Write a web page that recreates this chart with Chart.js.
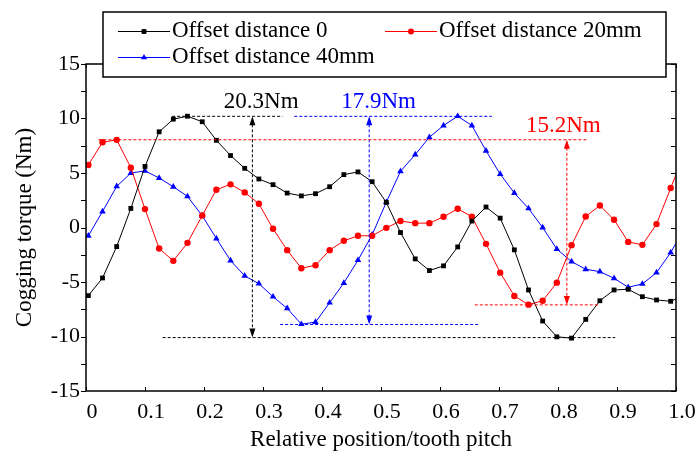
<!DOCTYPE html>
<html>
<head>
<meta charset="utf-8">
<script src="https://cdn.jsdelivr.net/npm/chart.js@4.4.1/dist/chart.umd.min.js"></script>
<style>
  html, body { margin: 0; padding: 0; background: #fff; }
</style>
</head>
<body>
<canvas id="torqueChart" width="700" height="458"></canvas>
<script>
// relative rotor position (tooth pitch) of each sample
var positions = [0.004, 0.028, 0.052, 0.076, 0.100, 0.124, 0.148, 0.172, 0.197, 0.221,
  0.245, 0.269, 0.293, 0.317, 0.341, 0.365, 0.389, 0.413, 0.437, 0.461,
  0.485, 0.509, 0.533, 0.558, 0.582, 0.606, 0.630, 0.654, 0.678, 0.702,
  0.726, 0.750, 0.774, 0.798, 0.823, 0.847, 0.871, 0.895, 0.919, 0.943,
  0.967, 0.991, 1.015];

// cogging torque (Nm)
var offset0 = [-6.25, -4.63, -1.75, 1.75, 5.6, 8.78, 9.94, 10.21, 9.7, 8.0,
  6.6, 5.43, 4.45, 3.93, 3.16, 2.9, 3.1, 3.74, 4.85, 5.1,
  4.2, 2.3, -0.46, -2.88, -3.95, -3.52, -1.78, 0.59, 1.88, 0.86,
  -2.05, -5.73, -8.58, -10.03, -10.15, -8.43, -6.72, -5.73, -5.67, -6.35,
  -6.65, -6.77, -6.2];
var offset20 = [5.74, 7.82, 8.04, 5.49, 1.69, -1.93, -3.06, -1.41, 1.1, 3.47,
  3.96, 3.22, 2.18, -0.12, -2.08, -3.74, -3.46, -2.08, -1.22, -0.76,
  -0.76, -0.03, 0.59, 0.4, 0.4, 0.98, 1.72, 0.98, -1.5, -4.14,
  -6.28, -7.08, -6.72, -5.06, -1.62, 1.01, 2.02, 0.71, -1.32, -1.59,
  0.31, 3.62, 6.9];
var offset40 = [-0.76, 1.47, 3.77, 5.0, 5.19, 4.54, 3.74, 2.85, 1.08, -1.01,
  -3.04, -4.44, -5.15, -6.35, -7.42, -8.87, -8.68, -6.9, -5.09, -3.0,
  -0.67, 2.32, 5.15, 6.69, 8.28, 9.36, 10.21, 9.36, 7.04, 4.9,
  3.16, 1.75, 0.0, -1.98, -3.13, -3.83, -4.05, -4.66, -5.48, -5.18,
  -4.14, -2.3, 0.0];

var seriesNames = ['Offset distance 0', 'Offset distance 20mm', 'Offset distance 40mm'];

// peak-to-peak markers
var rippleMax = [10.2, 10.2, 8.05];
var rippleMin = [-10.1, -8.9, -7.1];
var rippleLabels = ['20.3Nm', '17.9Nm', '15.2Nm'];

var serif = "'Liberation Serif', 'Times New Roman', serif";

function toPoints(ys) {
  return ys.map(function (y, i) { return { x: positions[i], y: y }; });
}

var guides = [
  { color: '#000000', at: 0.282, hi: rippleMax[0], lo: rippleMin[0], hiSpan: [0.146, 0.333], loSpan: [0.130, 0.897], text: rippleLabels[0], textAt: [0.297, 11.5] },
  { color: '#0000ff', at: 0.480, hi: rippleMax[1], lo: rippleMin[1], hiSpan: [0.353, 0.688], loSpan: [0.329, 0.667], text: rippleLabels[1], textAt: [0.496, 11.5] },
  { color: '#ff0000', at: 0.815, hi: rippleMax[2], lo: rippleMin[2], hiSpan: [0.021, 0.851], loSpan: [0.659, 0.870], text: rippleLabels[2], textAt: [0.809, 9.35] }
];

function marker(ctx, style, x, y, color) {
  ctx.fillStyle = color;
  ctx.beginPath();
  if (style === 'rect') {
    ctx.rect(x - 2.4, y - 2.4, 4.8, 4.8);
  } else if (style === 'circle') {
    ctx.arc(x, y, 3, 0, Math.PI * 2);
  } else {
    ctx.moveTo(x, y - 3.6);
    ctx.lineTo(x + 3.1, y + 1.8);
    ctx.lineTo(x - 3.1, y + 1.8);
    ctx.closePath();
  }
  ctx.fill();
}

var decor = {
  id: 'decor',
  afterDatasetsDraw: function (chart) {
    var ctx = chart.ctx, xs = chart.scales.x, ys = chart.scales.y, a = chart.chartArea;
    ctx.save();

    // peak-to-peak guide lines and arrows
    guides.forEach(function (g) {
      var px = xs.getPixelForValue(g.at);
      var pt = ys.getPixelForValue(g.hi);
      var pb = ys.getPixelForValue(g.lo);
      ctx.strokeStyle = g.color;
      ctx.fillStyle = g.color;
      ctx.lineWidth = 1;
      ctx.setLineDash([3, 2]);
      ctx.beginPath();
      ctx.moveTo(xs.getPixelForValue(g.hiSpan[0]), pt);
      ctx.lineTo(xs.getPixelForValue(g.hiSpan[1]), pt);
      ctx.moveTo(xs.getPixelForValue(g.loSpan[0]), pb);
      ctx.lineTo(xs.getPixelForValue(g.loSpan[1]), pb);
      ctx.moveTo(px, pt + 8);
      ctx.lineTo(px, pb - 8);
      ctx.stroke();
      ctx.setLineDash([]);
      ctx.beginPath();
      ctx.moveTo(px, pt);
      ctx.lineTo(px + 3, pt + 9);
      ctx.lineTo(px - 3, pt + 9);
      ctx.closePath();
      ctx.moveTo(px, pb);
      ctx.lineTo(px + 3, pb - 9);
      ctx.lineTo(px - 3, pb - 9);
      ctx.closePath();
      ctx.fill();
      ctx.font = '23px ' + serif;
      ctx.textAlign = 'center';
      ctx.textBaseline = 'middle';
      ctx.fillText(g.text, xs.getPixelForValue(g.textAt[0]), ys.getPixelForValue(g.textAt[1]));
    });

    // frame and ticks
    ctx.strokeStyle = '#000';
    ctx.lineWidth = 1.5;
    ctx.strokeRect(a.left, a.top, a.right - a.left, a.bottom - a.top);
    ctx.lineWidth = 1;
    ctx.beginPath();
    for (var v = -15; v <= 15; v += 2.5) {
      var py = Math.round(ys.getPixelForValue(v)) + 0.5;
      ctx.moveTo(a.left - 5, py); ctx.lineTo(a.left, py);
      ctx.moveTo(a.right - 5, py); ctx.lineTo(a.right, py);
    }
    for (var k = 0; k <= 10; k++) {
      var pxx = Math.round(xs.getPixelForValue(k / 10)) + 0.5;
      ctx.moveTo(pxx, a.bottom); ctx.lineTo(pxx, a.bottom - 4);
      ctx.moveTo(pxx, a.top); ctx.lineTo(pxx, a.top + 4);
    }
    ctx.stroke();

    // legend box
    ctx.fillStyle = '#fff';
    ctx.fillRect(103, 12, 563, 65);
    ctx.strokeStyle = '#000';
    ctx.lineWidth = 1.5;
    ctx.strokeRect(103, 12, 563, 65);
    var entries = [
      { x: 118, y: 31, color: '#000000', style: 'rect', name: seriesNames[0] },
      { x: 385, y: 31, color: '#ff0000', style: 'circle', name: seriesNames[1] },
      { x: 118, y: 57, color: '#0000ff', style: 'triangle', name: seriesNames[2] }
    ];
    ctx.font = '23px ' + serif;
    ctx.textAlign = 'left';
    ctx.textBaseline = 'middle';
    entries.forEach(function (e) {
      ctx.strokeStyle = e.color;
      ctx.lineWidth = 1;
      ctx.beginPath();
      ctx.moveTo(e.x, e.y + 0.5);
      ctx.lineTo(e.x + 52, e.y + 0.5);
      ctx.stroke();
      marker(ctx, e.style, e.x + 26, e.y + 0.5, e.color);
      ctx.fillStyle = '#000';
      ctx.fillText(e.name, e.x + 54, e.y);
    });
    ctx.restore();
  }
};

var ctx = document.getElementById('torqueChart').getContext('2d');
var torqueChart = new Chart(ctx, {
  type: 'line',
  data: {
    datasets: [{
      label: seriesNames[0],
      data: toPoints(offset0),
      borderColor: '#000000',
      backgroundColor: '#000000',
      borderWidth: 1,
      pointStyle: 'rect',
      pointRadius: 3.4,
      pointBorderWidth: 0
    }, {
      label: seriesNames[1],
      data: toPoints(offset20),
      borderColor: '#ff0000',
      backgroundColor: '#ff0000',
      borderWidth: 1,
      pointStyle: 'circle',
      pointRadius: 3.2,
      pointBorderWidth: 0
    }, {
      label: seriesNames[2],
      data: toPoints(offset40),
      borderColor: '#0000ff',
      backgroundColor: '#0000ff',
      borderWidth: 1,
      pointStyle: 'triangle',
      pointRadius: 3.8,
      pointBorderWidth: 0
    }]
  },
  options: {
    responsive: false,
    animation: false,
    layout: { padding: { left: 0, right: 24, top: 64, bottom: 0 } },
    plugins: {
      legend: { display: false },
      tooltip: { enabled: false }
    },
    scales: {
      x: {
        type: 'linear',
        min: 0,
        max: 1,
        grid: { display: false, drawTicks: false },
        border: { display: false },
        ticks: {
          stepSize: 0.1,
          autoSkip: false,
          maxRotation: 0,
          padding: 8,
          labelOffset: 6,
          color: '#000',
          font: { family: serif, size: 22 },
          callback: function (v) { return v === 0 ? '0' : Number(v).toFixed(1); }
        },
        title: {
          display: true,
          text: 'Relative position/tooth pitch',
          color: '#000',
          font: { family: serif, size: 23 },
          padding: { top: 0, bottom: 4 }
        },
        afterFit: function (s) { s.height = 67; s.paddingLeft = 0; s.paddingRight = 0; }
      },
      y: {
        min: -15,
        max: 15,
        grid: { display: false, drawTicks: false },
        border: { display: false },
        ticks: {
          stepSize: 2.5,
          padding: 6,
          color: '#000',
          font: { family: serif, size: 22 },
          callback: function (v) { return v % 5 === 0 ? String(v) : ''; }
        },
        title: {
          display: true,
          text: 'Cogging torque (Nm)',
          color: '#000',
          font: { family: serif, size: 23 },
          padding: { top: 11, bottom: 0 }
        },
        afterFit: function (s) { s.width = 86; s.paddingTop = 0; s.paddingBottom = 0; }
      }
    }
  },
  plugins: [decor]
});
</script>
</body>
</html>
